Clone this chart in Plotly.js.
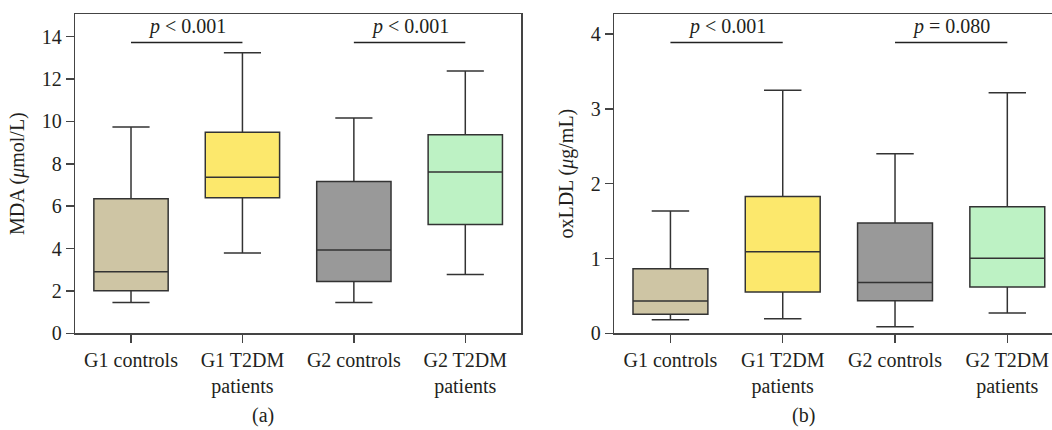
<!DOCTYPE html>
<html>
<head>
<meta charset="utf-8">
<script src="https://cdn.plot.ly/plotly-3.0.1.min.js"></script>
<style>html,body{margin:0;padding:0;background:#fff;}#chart{width:1052px;height:430px;}</style>
</head>
<body>
<div id="chart"></div>
<script>
// ---- data ----
const categories = ["G1 controls", "G1 T2DM patients", "G2 controls", "G2 T2DM patients"];
const tickLabels = ["G1 controls", "G1 T2DM<br>patients", "G2 controls", "G2 T2DM<br>patients"];

// Panel (a) MDA (µmol/L)
const mdaLower  = [1.45, 3.79, 1.45, 2.77];
const mdaQ1     = [2.01, 6.40, 2.45, 5.13];
const mdaMedian = [2.91, 7.36, 3.93, 7.61];
const mdaQ3     = [6.35, 9.49, 7.17, 9.37];
const mdaUpper  = [9.74, 13.24, 10.16, 12.38];

// Panel (b) oxLDL (µg/mL)
const oxLower  = [0.182, 0.196, 0.089, 0.271];
const oxQ1     = [0.254, 0.552, 0.436, 0.619];
const oxMedian = [0.432, 1.09, 0.681, 1.002];
const oxQ3     = [0.864, 1.83, 1.474, 1.692];
const oxUpper  = [1.634, 3.25, 2.40, 3.216];

const pTextsA = ["<i>p</i> &lt; 0.001", "<i>p</i> &lt; 0.001"];
const pTextsB = ["<i>p</i> &lt; 0.001", "<i>p</i> = 0.080"];

const fillColors = ["#cec5a4", "#fce86c", "#999999", "#bdf2c4"];

// ---- style ----
const FONT = "Liberation Serif, Times New Roman, serif";
const TXT = "#231f20";
const LINE = "#333333";
const AX = "#444444";

const traces = [];
function addBoxes(lower, q1, med, q3, upper, xa, ya) {
  categories.forEach((c, i) => {
    traces.push({
      type: "box",
      x: [c],
      lowerfence: [lower[i]],
      q1: [q1[i]],
      median: [med[i]],
      q3: [q3[i]],
      upperfence: [upper[i]],
      xaxis: xa, yaxis: ya,
      width: 0.667,
      whiskerwidth: 0.5,
      fillcolor: fillColors[i],
      line: {color: LINE, width: 1.5},
      boxpoints: false,
      hoverinfo: "skip",
      showlegend: false
    });
  });
}
addBoxes(mdaLower, mdaQ1, mdaMedian, mdaQ3, mdaUpper, "x", "y");
addBoxes(oxLower, oxQ1, oxMedian, oxQ3, oxUpper, "x2", "y2");

const W = 1052, H = 430;
const plotTop = 14, plotBottom = 333.3;
const yDom = [(H - plotBottom) / H, (H - plotTop) / H];

function xAxis(domain, range, mirror) {
  return {
    domain: domain, range: range, type: "category",
    categoryorder: "array", categoryarray: categories,
    tickmode: "array", tickvals: categories, ticktext: tickLabels,
    showline: true, linecolor: AX, linewidth: 1.5, mirror: mirror,
    ticks: "outside", ticklen: 8, tickwidth: 1.5, tickcolor: AX,
    showgrid: false, zeroline: false, fixedrange: true,
    tickfont: {family: FONT, size: 20, color: TXT}
  };
}
function yAxis(anchor, range, dtick, title, mirror) {
  return {
    anchor: anchor, domain: yDom, range: range, dtick: dtick, tick0: 0,
    showline: true, linecolor: AX, linewidth: 1.5, mirror: mirror,
    ticks: "outside", ticklen: 8, tickwidth: 1.5, tickcolor: AX,
    showgrid: false, zeroline: false, fixedrange: true,
    tickfont: {family: FONT, size: 20, color: TXT},
    title: {text: title, font: {family: FONT, size: 20, color: TXT}, standoff: 12}
  };
}

const pBarA = 13.73, pTextA = 14.5;
const pBarB = 3.889, pTextB = 4.107;

const shapes = [];
const annotations = [];
[[0, 1], [2, 3]].forEach((pair, k) => {
  shapes.push({type: "line", xref: "x", yref: "y", x0: categories[pair[0]], x1: categories[pair[1]], y0: pBarA, y1: pBarA, line: {color: "#222", width: 1.5}});
  shapes.push({type: "line", xref: "x2", yref: "y2", x0: categories[pair[0]], x1: categories[pair[1]], y0: pBarB, y1: pBarB, line: {color: "#222", width: 1.5}});
  annotations.push({xref: "x", yref: "y", x: pair[0] + 0.5, y: pTextA, text: pTextsA[k], showarrow: false, yanchor: "middle", font: {family: FONT, size: 20, color: TXT}});
  annotations.push({xref: "x2", yref: "y2", x: pair[0] + 0.5, y: pTextB, text: pTextsB[k], showarrow: false, yanchor: "middle", font: {family: FONT, size: 20, color: TXT}});
});
annotations.push({xref: "paper", yref: "paper", x: 262.5 / W, y: 1 / H, text: "(a)", showarrow: false, xanchor: "center", yanchor: "bottom", font: {family: FONT, size: 20, color: TXT}});
annotations.push({xref: "paper", yref: "paper", x: 803 / W, y: 1 / H, text: "(b)", showarrow: false, xanchor: "center", yanchor: "bottom", font: {family: FONT, size: 20, color: TXT}});

const layout = {
  width: W, height: H,
  margin: {l: 0, r: 0, t: 0, b: 0, autoexpand: false},
  paper_bgcolor: "#ffffff", plot_bgcolor: "#ffffff",
  showlegend: false,
  boxmode: "overlay",
  xaxis: xAxis([75.3 / W, 521 / W], [-0.5, 3.5], true),
  yaxis: yAxis("x", [0, 15.07], 2, "MDA (<i>μ</i>mol/L)", true),
  xaxis2: xAxis([614.3 / W, 1], [-0.5, 3.398], true),
  yaxis2: yAxis("x2", [0, 4.27], 1, "oxLDL (<i>μ</i>g/mL)", false),
  shapes: shapes,
  annotations: annotations
};
layout.xaxis.anchor = "y";
layout.xaxis2.anchor = "y2";

Plotly.newPlot("chart", traces, layout, {staticPlot: true, displayModeBar: false});
</script>
</body>
</html>
